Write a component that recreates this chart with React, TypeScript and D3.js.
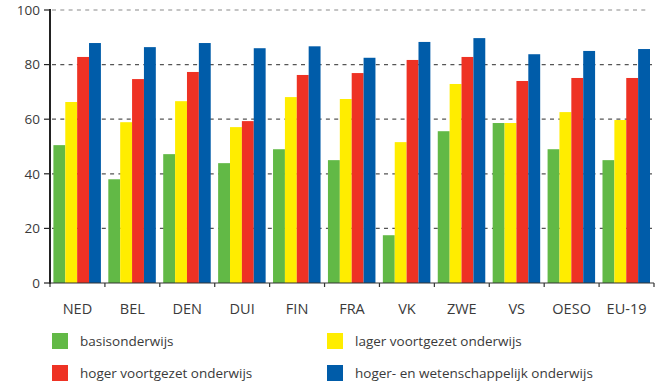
import React from "react";
import * as d3 from "d3";

const categories = ["NED", "BEL", "DEN", "DUI", "FIN", "FRA", "VK", "ZWE", "VS", "OESO", "EU-19"];
const seriesNames = [
  "basisonderwijs",
  "lager voortgezet onderwijs",
  "hoger voortgezet onderwijs",
  "hoger- en wetenschappelijk onderwijs",
];
const basis = [50.5, 38.0, 47.2, 43.9, 49.0, 45.0, 17.5, 55.6, 58.6, 49.0, 45.0];
const lager = [66.3, 58.9, 66.6, 57.1, 68.1, 67.4, 51.6, 72.9, 58.6, 62.6, 59.7];
const hogerVG = [82.8, 74.7, 77.3, 59.3, 76.2, 76.9, 81.7, 82.8, 74.0, 75.1, 75.1];
const hogerWO = [87.9, 86.4, 87.9, 86.0, 86.7, 82.5, 88.3, 89.7, 83.8, 85.0, 85.7];
const yTicks = [0, 20, 40, 60, 80, 100];
const colors = ["#62b946", "#ffed00", "#ee3224", "#005ca9"];

const seriesValues = [basis, lager, hogerVG, hogerWO];

export default function App() {
  const W = 657;
  const H = 383;
  const left = 50;
  const right = 654;
  const top = 10;
  const bottom = 283;

  const x0 = d3.scaleBand<string>().domain(categories).range([left, right]).padding(0);
  const x1 = d3
    .scaleBand<number>()
    .domain(d3.range(seriesNames.length))
    .range([3.4, x0.bandwidth() - 4]);
  const y = d3.scaleLinear().domain([0, 100]).range([bottom, top]);

  const font = "'Open Sans', sans-serif";
  const textColor = "#3a3a3a";

  const legendPos = [
    { x: 52, y: 333 },
    { x: 327, y: 333 },
    { x: 52, y: 365 },
    { x: 327, y: 365 },
  ];

  return (
    <svg
      width={W}
      height={H}
      style={{ position: "absolute", left: 0, top: 0, background: "#fff" }}
      fontFamily={font}
    >
      {/* gridlines */}
      {yTicks
        .filter((t) => t > 0)
        .map((t) => (
          <line
            key={"g" + t}
            x1={left + 2}
            x2={right - (t === 100 ? 6 : 2)}
            y1={y(t)}
            y2={y(t)}
            stroke={t === 100 ? "#8a8a8a" : "#555"}
            strokeWidth={1.2}
            strokeDasharray="4,4.3"
          />
        ))}
      {/* bars */}
      {categories.map((c, i) => (
        <g key={c} transform={`translate(${x0(c)},0)`}>
          {seriesValues.map((vals, s) => (
            <rect
              key={s}
              x={x1(s)}
              width={x1.bandwidth()}
              y={y(vals[i])}
              height={y(0) - y(vals[i])}
              fill={colors[s]}
            />
          ))}
        </g>
      ))}
      {/* y axis */}
      <line x1={left} x2={left} y1={top - 1} y2={bottom + 1} stroke="#222" strokeWidth={2} />
      {yTicks.map((t) => (
        <g key={"yt" + t}>
          <line x1={left - 6} x2={left} y1={y(t)} y2={y(t)} stroke="#222" strokeWidth={1.2} />
          <text
            x={left - 10}
            y={y(t)}
            dy="0.35em"
            textAnchor="end"
            fontSize={13.5}
            fill={textColor}
          >
            {t}
          </text>
        </g>
      ))}
      {/* x axis */}
      <line x1={left} x2={right} y1={bottom} y2={bottom} stroke="#333" strokeWidth={1.2} />
      {categories.map((c) => (
        <line
          key={"xt" + c}
          x1={(x0(c) as number)}
          x2={(x0(c) as number)}
          y1={bottom}
          y2={bottom + 4}
          stroke="#333"
          strokeWidth={1.2}
        />
      ))}
      <line x1={right} x2={right} y1={bottom} y2={bottom + 4} stroke="#333" strokeWidth={1.2} />
      {categories.map((c) => (
        <text
          key={"xl" + c}
          x={(x0(c) as number) + x0.bandwidth() / 2}
          y={309}
          dy="0.35em"
          textAnchor="middle"
          fontSize={14.5}
          fill={textColor}
        >
          {c}
        </text>
      ))}
      {/* legend */}
      {seriesNames.map((n, s) => (
        <g key={n} transform={`translate(${legendPos[s].x},${legendPos[s].y})`}>
          <rect x={0} y={0} width={16} height={16} fill={colors[s]} />
          <text x={28} y={8} dy="0.35em" fontSize={13.5} fill={textColor}>
            {n}
          </text>
        </g>
      ))}
    </svg>
  );
}
